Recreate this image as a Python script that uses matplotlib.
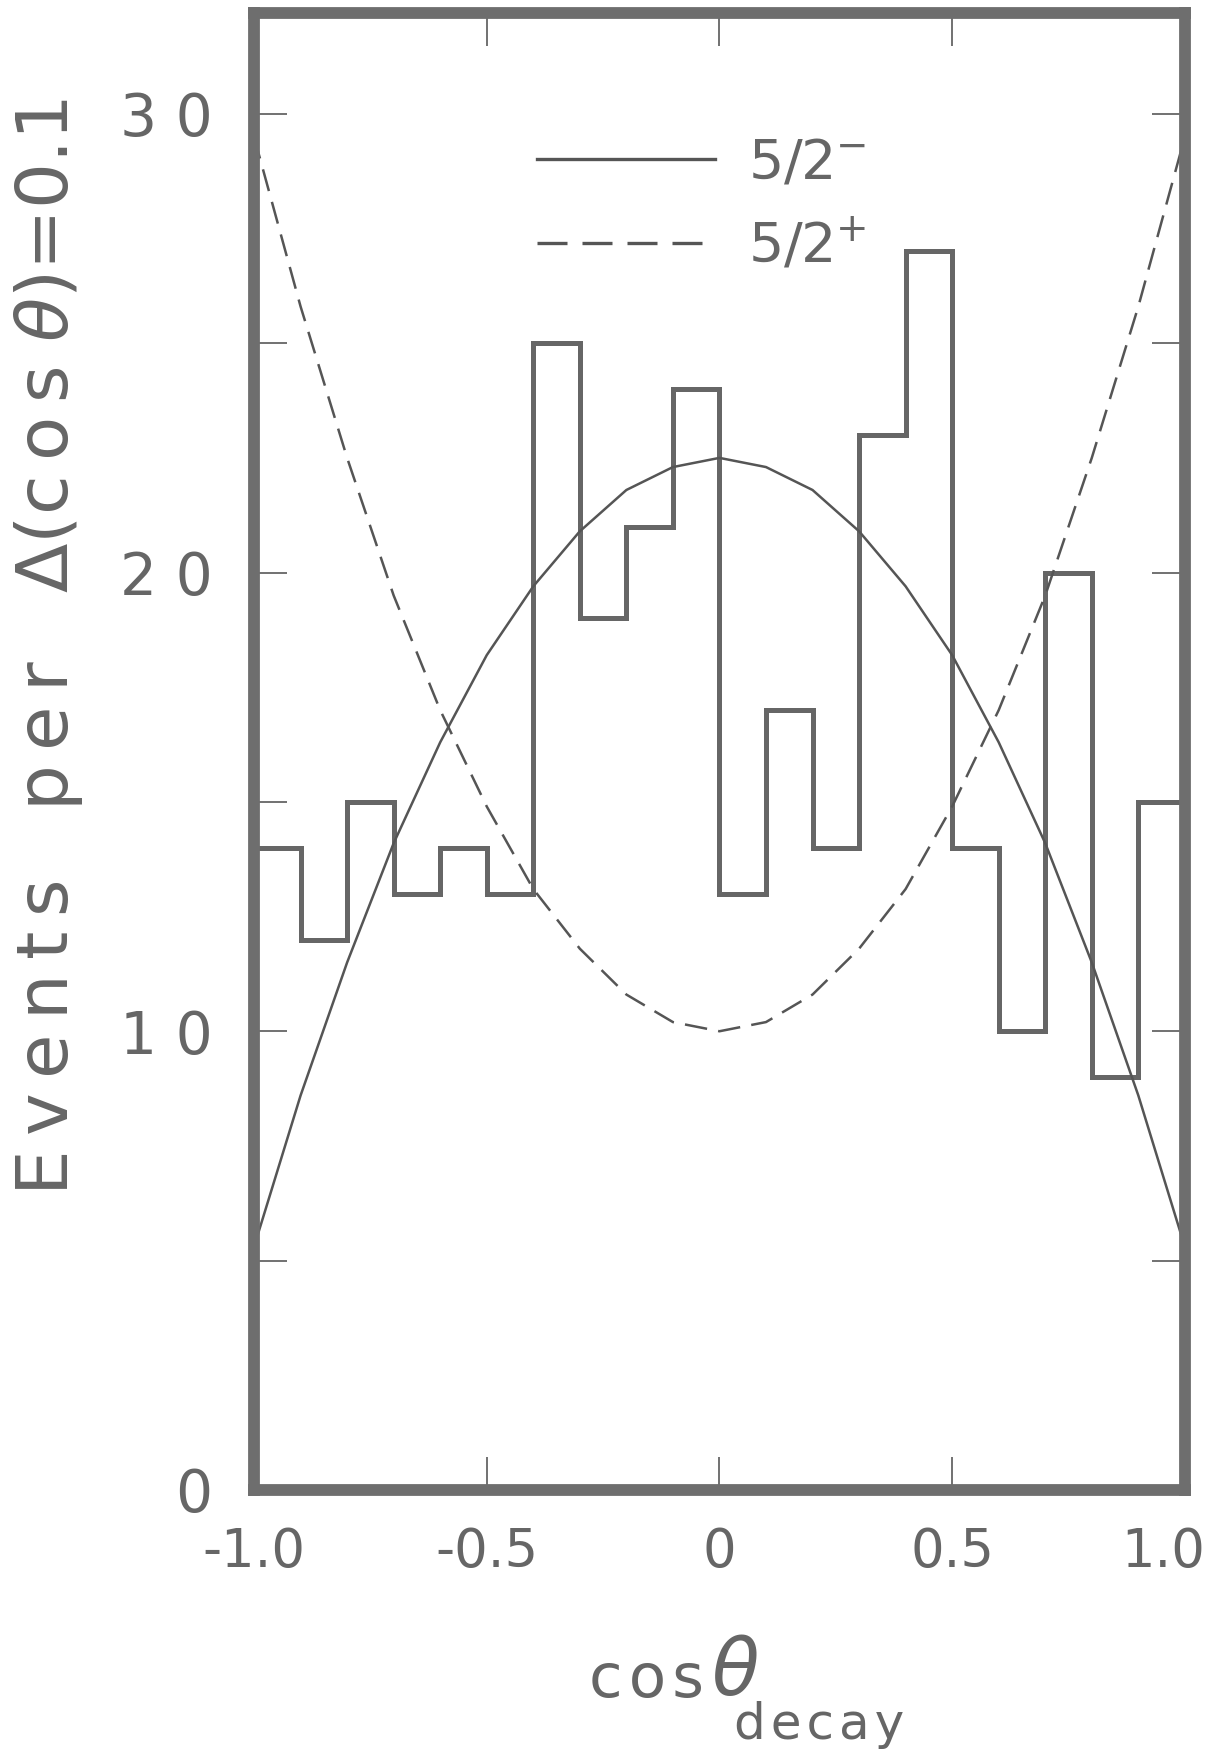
import matplotlib.pyplot as plt
import matplotlib.transforms as mtransforms
import numpy as np

plt.rcParams['font.family'] = ['DejaVu Sans']

# histogram, bins of width 0.1 over cos theta
bin_edges = np.round(np.arange(-1.0, 1.05, 0.1), 1)
counts = [14, 12, 15, 13, 14, 13, 25, 19, 21, 24,
          13, 17, 14, 23, 27, 14, 10, 20, 9, 15]

# curves at steps of 0.1
curve_x = np.round(np.arange(-1.0, 1.05, 0.1), 1)
minus_curve = [5.3, 8.6, 11.5, 14.1, 16.3, 18.2, 19.7, 20.9, 21.8, 22.3, 22.5,
               22.3, 21.8, 20.9, 19.7, 18.2, 16.3, 14.1, 11.5, 8.6, 5.3]
plus_curve = [29.5, 25.8, 22.5, 19.5, 17.0, 14.9, 13.1, 11.8, 10.8, 10.2, 10.0,
              10.2, 10.8, 11.8, 13.1, 14.9, 17.0, 19.5, 22.5, 25.8, 29.5]

y_ticks = [0, 5, 10, 15, 20, 25, 30]
y_tick_labels = ['0', '', '1 0', '', '2 0', '', '3 0']
x_ticks = [-1.0, -0.5, 0.0, 0.5, 1.0]
x_tick_labels = ['-1.0', '-0.5', '0', '0.5', '1.0']

ink = '#666666'
thin = '\u2009'
hair = '\u200a'

fig = plt.figure(figsize=(12.19, 17.5), dpi=100)
ax = fig.add_axes([0.2084, 0.1486, 0.7636, 0.844])

ax.stairs(counts, bin_edges, color=ink, lw=3.6, baseline=0)
ax.plot(curve_x, minus_curve, color='#555555', lw=1.8, label=r'5/2$^{-}$')
ax.plot(curve_x, plus_curve, color='#555555', lw=1.8, dashes=(9, 4.5),
        label=r'5/2$^{+}$')

ax.set_xlim(-1.0, 1.0)
ax.set_ylim(0, 32.2)
ax.set_yticks(y_ticks)
ax.set_yticklabels(y_tick_labels)
ax.set_xticks(x_ticks)
ax.set_xticklabels(x_tick_labels)
ax.tick_params(axis='both', direction='in', length=24, width=1.3, color=ink,
               labelcolor=ink)
ax.tick_params(axis='y', pad=30, right=True, labelsize=42)
ax.tick_params(axis='x', pad=26, top=True, labelsize=38)
# last label sits a bit left of its tick so it stays on the page
last = ax.get_xticklabels()[-1]
last.set_horizontalalignment('right')
last.set_transform(last.get_transform() +
                   mtransforms.ScaledTranslation(0.2, 0, fig.dpi_scale_trans))

for s in ax.spines.values():
    s.set_linewidth(8.5)
    s.set_color('#6e6e6e')

leg = ax.legend(loc='upper left', bbox_to_anchor=(0.25, 0.95), frameon=False,
                fontsize=40, handlelength=3.2, handletextpad=0.6,
                labelspacing=0.5, labelcolor=ink)
for h in leg.get_lines():
    h.set_linewidth(2.4)

ylab = thin.join('Events') + '   ' + thin.join('per') + '   ' + r'$\Delta$(' + \
    thin.join('cos') + r' $\theta$)=0.1'
fig.text(0.040, 0.63, ylab, rotation=90, ha='center', va='center',
         fontsize=52, color=ink)
fig.text(0.530, 0.040, hair.join('cos'), ha='center', va='center',
         fontsize=44, color=ink)
fig.text(0.603, 0.044, r'$\theta$', ha='center', va='center',
         fontsize=56, color=ink)
fig.text(0.672, 0.0143, hair.join('decay'), ha='center', va='center',
         fontsize=36, color=ink)

fig.savefig('out.png', dpi=100)
